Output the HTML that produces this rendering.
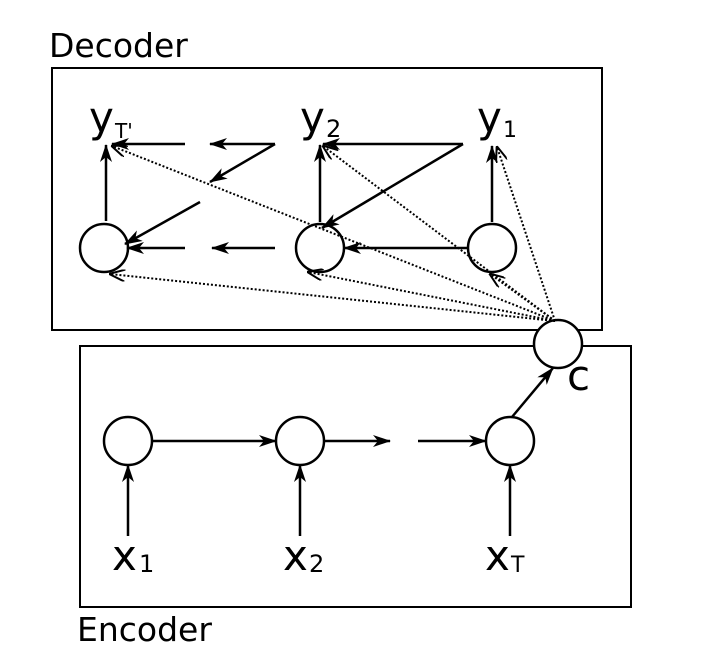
<!DOCTYPE html>
<html><head><meta charset="utf-8"><style>
html,body{margin:0;padding:0;background:#fff;}
svg{display:block;}
text{font-family:"DejaVu Sans","Liberation Sans",sans-serif;fill:#000;}
</style></head><body>
<svg width="706" height="664" viewBox="0 0 706 664" xmlns="http://www.w3.org/2000/svg">
<defs>
<marker id="a" markerWidth="18" markerHeight="12" refX="17" refY="6" orient="auto" markerUnits="userSpaceOnUse">
<path d="M0,0 L18,6 L0,12 L5,6 Z" fill="#000"/></marker>
<marker id="b" markerWidth="16" markerHeight="12" refX="15" refY="6" orient="auto" markerUnits="userSpaceOnUse">
<path d="M0,0 L16,6 L0,12" fill="none" stroke="#000" stroke-width="2"/></marker>
</defs>
<g fill="none" stroke="#000" stroke-width="2">
<rect x="52" y="68" width="550" height="262"/>
<rect x="80" y="346" width="551" height="261"/>
</g>
<text x="49" y="57" font-size="33">Decoder</text>
<text x="77" y="641" font-size="33">Encoder</text>
<g fill="#fff" stroke="#000" stroke-width="2.5">
<circle cx="104" cy="248" r="24"/>
<circle cx="320" cy="248" r="24"/>
<circle cx="492" cy="248" r="24"/>
<circle cx="128" cy="441" r="24"/>
<circle cx="300" cy="441" r="24"/>
<circle cx="510" cy="441" r="24"/>
<circle cx="558" cy="344" r="24"/>
</g>
<g stroke="#000" stroke-width="2.5" fill="none" marker-end="url(#a)">
<line x1="106" y1="221" x2="106" y2="145"/>
<line x1="320" y1="222" x2="320" y2="145"/>
<line x1="492" y1="222" x2="492" y2="146"/>
<line x1="463" y1="144" x2="323" y2="144"/>
<line x1="463" y1="144" x2="322" y2="228"/>
<line x1="185" y1="144" x2="112" y2="144"/>
<line x1="275" y1="144" x2="210" y2="144"/>
<line x1="275" y1="144" x2="210" y2="182"/>
<line x1="200" y1="202" x2="125" y2="244"/>
<line x1="185" y1="248" x2="127" y2="248"/>
<line x1="275" y1="248" x2="212" y2="248"/>
<line x1="467" y1="248" x2="344" y2="248"/>
<line x1="152" y1="441" x2="276" y2="441"/>
<line x1="324" y1="441" x2="390" y2="441"/>
<line x1="418" y1="441" x2="486" y2="441"/>
<line x1="512" y1="417" x2="553" y2="368"/>
<line x1="128" y1="536" x2="128" y2="465"/>
<line x1="300" y1="536" x2="300" y2="465"/>
<line x1="510" y1="536" x2="510" y2="465"/>
</g>
<g stroke="#000" stroke-width="2" fill="none" stroke-dasharray="2,2" marker-end="url(#b)">
<line x1="555" y1="321" x2="112" y2="146"/>
<line x1="555" y1="321" x2="110" y2="274"/>
<line x1="555" y1="321" x2="323" y2="146"/>
<line x1="555" y1="321" x2="308" y2="272"/>
<line x1="555" y1="321" x2="497" y2="147"/>
<line x1="555" y1="321" x2="490" y2="274"/>
</g>
<text x="89" y="132" font-size="42">y</text><text x="115" y="138" font-size="20">T'</text>
<text x="300" y="132" font-size="42">y</text><text x="326" y="137" font-size="24">2</text>
<text x="477" y="132" font-size="42">y</text><text x="503" y="137" font-size="22">1</text>
<text x="567" y="390" font-size="42">c</text>
<text x="112" y="570" font-size="42">x</text><text x="139" y="572" font-size="24">1</text>
<text x="283" y="570" font-size="42">x</text><text x="309" y="572" font-size="24">2</text>
<text x="485" y="570" font-size="42">x</text><text x="511" y="572" font-size="22">T</text>
</svg>
</body></html>
